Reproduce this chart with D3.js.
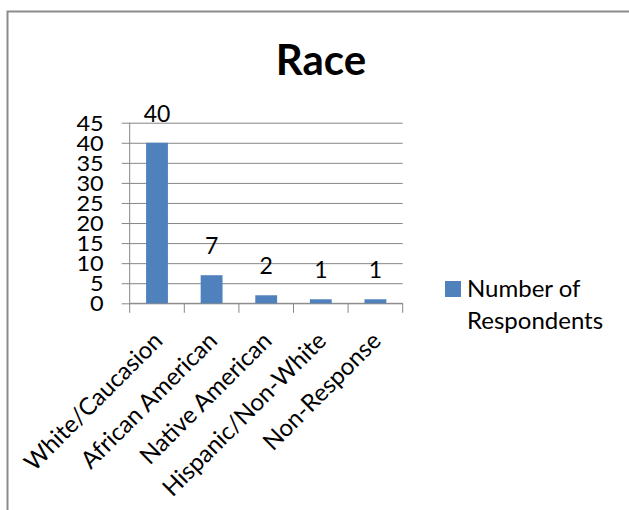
<!DOCTYPE html>
<html>
<head>
<meta charset="utf-8">
<script src="https://cdn.jsdelivr.net/npm/d3@7"></script>
<style>
  html, body { margin: 0; padding: 0; background: #fff; }
  svg { display: block; }
  text { font-family: Lato, "Open Sans", sans-serif; fill: #000; }
</style>
</head>
<body>
<script>
// Survey answers: respondents by race
const categories = ["White/Caucasion", "African American", "Native American", "Hispanic/Non-White", "Non-Response"];
const respondents = [40, 7, 2, 1, 1];
const yTicks = [0, 5, 10, 15, 20, 25, 30, 35, 40, 45];
const seriesName = ["Number of", "Respondents"];
const chartTitle = "Race";

const W = 629, H = 510;
const plot = { left: 129.7, right: 402.7, top: 122.7, bottom: 303.3 };
const barColor = "#4f81bd";
const axisColor = "#868686";

const svg = d3.select("body").append("svg")
  .attr("width", W).attr("height", H);

// chart frame
svg.append("path")
  .attr("d", `M7.5,${H} V11.5 H${W}`)
  .attr("fill", "none").attr("stroke", "#8c8c8c").attr("stroke-width", 2);

// title
svg.append("text")
  .attr("x", 321).attr("y", 75)
  .attr("text-anchor", "middle")
  .attr("font-size", 42).attr("font-weight", 700)
  .text(chartTitle);

const x = d3.scaleBand().domain(categories)
  .range([plot.left, plot.right]).paddingInner(0.6).paddingOuter(0.3);
const y = d3.scaleLinear().domain([0, 45]).range([plot.bottom, plot.top]);

// horizontal gridlines with outward ticks
const yAxis = svg.append("g").attr("transform", `translate(${plot.left},0)`)
  .call(d3.axisLeft(y).tickValues(yTicks).tickSize(8).tickPadding(18));
yAxis.select(".domain").remove();
yAxis.selectAll(".tick line").attr("stroke", axisColor);
yAxis.selectAll(".tick").append("line")
  .attr("x1", 0).attr("x2", plot.right - plot.left)
  .attr("stroke", axisColor);
// tick digits are widened slightly so they stay short enough to stack every 5 units
const sx = 1.12;
yAxis.selectAll(".tick text")
  .attr("font-size", 21).attr("font-family", "Lato").attr("fill", "#000")
  .attr("x", -26 / sx)
  .attr("transform", `scale(${sx},1)`)
  .attr("dy", "0.36em");

// vertical axis line
svg.append("line")
  .attr("x1", plot.left).attr("x2", plot.left)
  .attr("y1", plot.top).attr("y2", plot.bottom)
  .attr("stroke", axisColor);

// category axis: ticks fall between bands
const xAxis = svg.append("g");
xAxis.append("line")
  .attr("x1", plot.left).attr("x2", plot.right)
  .attr("y1", plot.bottom).attr("y2", plot.bottom)
  .attr("stroke", axisColor);
const boundaries = d3.range(categories.length + 1)
  .map(i => plot.left + i * (plot.right - plot.left) / categories.length);
xAxis.selectAll("line.tk").data(boundaries).join("line").attr("class", "tk")
  .attr("x1", d => d).attr("x2", d => d)
  .attr("y1", plot.bottom).attr("y2", plot.bottom + 9.5)
  .attr("stroke", axisColor);

// bars
svg.append("g").selectAll("rect").data(categories).join("rect")
  .attr("x", d => x(d))
  .attr("width", x.bandwidth())
  .attr("y", (d, i) => y(respondents[i]))
  .attr("height", (d, i) => y(0) - y(respondents[i]))
  .attr("fill", barColor);

// value labels
svg.append("g").selectAll("text").data(categories).join("text")
  .attr("x", d => x(d) + x.bandwidth() / 2)
  .attr("y", (d, i) => y(respondents[i]) - 21)
  .attr("text-anchor", "middle")
  .attr("font-size", 23)
  .text((d, i) => respondents[i]);

// rotated category labels
svg.append("g").selectAll("text").data(categories).join("text")
  .attr("transform", d => `translate(${x(d) + x.bandwidth() / 2 + 7},${plot.bottom + 39}) rotate(-45)`)
  .attr("text-anchor", "end")
  .attr("font-size", 24)
  .text(d => d);

// legend
const lg = svg.append("g");
lg.append("rect").attr("x", 445).attr("y", 281).attr("width", 16).attr("height", 16)
  .attr("fill", barColor);
lg.selectAll("text").data(seriesName).join("text")
  .attr("x", 467).attr("y", (d, i) => 297 + i * 32)
  .attr("font-size", 24)
  .text(d => d);
</script>
</body>
</html>
